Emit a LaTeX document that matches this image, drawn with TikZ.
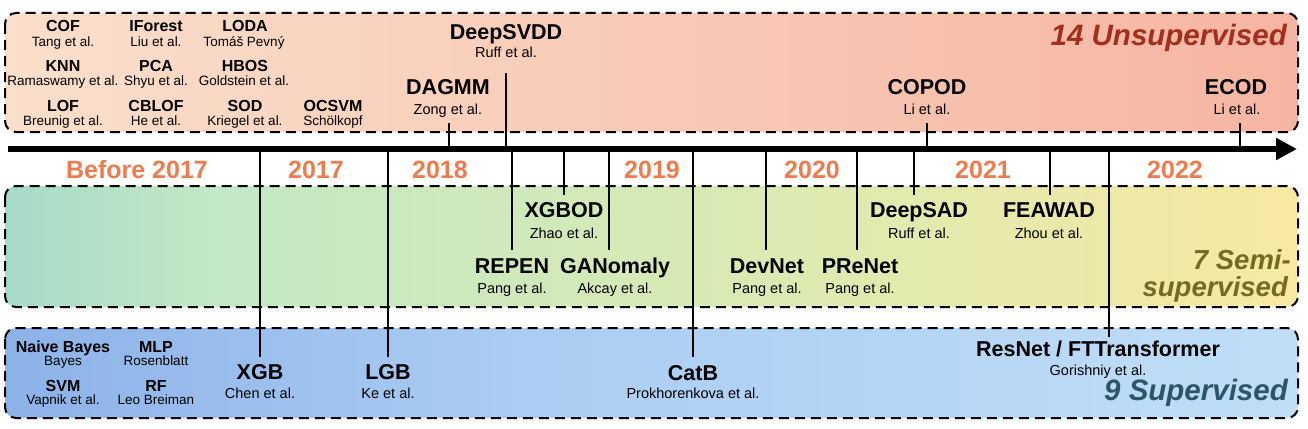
\documentclass[tikz,border=0pt]{standalone}
\usepackage{fontspec}
\setmainfont{Liberation Sans}
\usetikzlibrary{arrows.meta}
\definecolor{uA}{HTML}{FADFCB}
\definecolor{uB}{HTML}{F6B5A2}
\definecolor{sA}{HTML}{A6DBC8}
\definecolor{sB}{HTML}{C3E8C6}
\definecolor{sC}{HTML}{D8EAB4}
\definecolor{sD}{HTML}{F7E9A2}
\definecolor{pA}{HTML}{8DB2E8}
\definecolor{pB}{HTML}{ABCDF3}
\definecolor{pC}{HTML}{BFDEF7}
\definecolor{yearc}{HTML}{EE7B4C}
\definecolor{unsc}{HTML}{A22F1C}
\definecolor{semic}{HTML}{736B22}
\definecolor{supc}{HTML}{2C5568}
\pgfdeclarehorizontalshading{topsh}{100bp}{color(0bp)=(uA); color(25bp)=(uA); color(75bp)=(uB); color(100bp)=(uB)}
\pgfdeclarehorizontalshading{semish}{100bp}{color(0bp)=(sA); color(25bp)=(sA); color(33bp)=(sB); color(52bp)=(sC); color(75bp)=(sD); color(100bp)=(sD)}
\pgfdeclarehorizontalshading{supsh}{100bp}{color(0bp)=(pA); color(25bp)=(pA); color(45bp)=(pB); color(75bp)=(pC); color(100bp)=(pC)}
\newcommand\vtick[4]{\coordinate (#1-a) at (#2,#3); \coordinate (#1-b) at (#2,#4); \draw[tick] (#1-a) -- (#1-b);}
\begin{document}
\begin{tikzpicture}[x=1pt,y=-1pt,
 st/.style={font=\bfseries\fontsize{16}{16}\selectfont, inner sep=0pt, text height=11.5pt, text depth=0pt},
 ss/.style={font=\fontsize{13.5}{13.5}\selectfont, inner sep=0pt, text height=9.7pt, text depth=0pt},
 bt/.style={font=\bfseries\fontsize{21.5}{21.5}\selectfont, inner sep=0pt, text height=15.5pt, text depth=0pt},
 bs/.style={font=\fontsize{14.5}{14.5}\selectfont, inner sep=0pt, text height=10.4pt, text depth=0pt},
 yr/.style={font=\bfseries\fontsize{25}{25}\selectfont, text=yearc, inner sep=0pt, text height=18pt, text depth=0pt},
 grp/.style={font=\bfseries\itshape\fontsize{29.5}{29.5}\selectfont, inner sep=0pt, anchor=base east},
 tick/.style={line width=1.3pt, draw=black},
 boxline/.style={draw=black, line width=2pt, dash pattern=on 10pt off 6pt, rounded corners=11pt}]
\useasboundingbox (0,0) rectangle (1308,428);
% boxes
\shade[shading=topsh, rounded corners=11pt] (5,13) rectangle (1298,132);
\draw[boxline] (5,13) rectangle (1298,132);
\shade[shading=semish, rounded corners=11pt] (5,186) rectangle (1298,307);
\draw[boxline] (5,186) rectangle (1298,307);
\shade[shading=supsh, rounded corners=11pt] (5,328) rectangle (1298,418);
\draw[boxline] (5,328) rectangle (1298,418);
% ticks
\vtick{dsvdd}{506}{73}{149}
\vtick{dagmm}{449}{123}{149}
\vtick{copod}{927}{123}{149}
\vtick{ecod}{1240}{123}{149}
\vtick{xgb}{260}{149}{357}
\vtick{lgb}{388}{149}{357}
\vtick{catb}{693}{149}{357}
\vtick{resnet}{1109}{149}{337}
\vtick{repen}{512}{149}{250}
\vtick{xgbod}{564}{149}{195}
\vtick{ganom}{609}{149}{250}
\vtick{devnet}{766}{149}{250}
\vtick{prenet}{857}{149}{250}
\vtick{deepsad}{914}{149}{195}
\vtick{feawad}{1050}{149}{195}
% axis
\coordinate (axL) at (8,149);
\coordinate (axR) at (1297,149);
\draw[line width=6pt, -{Triangle[length=21pt,width=21pt]}] (axL) -- (axR);
% years
\node[yr] (y0) at (137,169) {Before 2017};
\node[yr] (y1) at (316,169) {2017};
\node[yr] (y2) at (440,169) {2018};
\node[yr] (y3) at (652,169) {2019};
\node[yr] (y4) at (812,169) {2020};
\node[yr] (y5) at (983,169) {2021};
\node[yr] (y6) at (1175,169) {2022};
% unsupervised classic
\node[st] (cof) at (63,26) {COF};        \node[ss] (cofs) at (63,42) {Tang et al.};
\node[st] (ifo) at (156,26) {IForest};   \node[ss] (ifos) at (156,42) {Liu et al.};
\node[st] (loda) at (245,26) {LODA};     \node[ss] (lodas) at (244,42) {Tomáš Pevný};
\node[st] (knn) at (63,66) {KNN};        \node[ss] (knns) at (63,81) {Ramaswamy et al.};
\node[st] (pca) at (156,66) {PCA};       \node[ss] (pcas) at (156,81) {Shyu et al.};
\node[st] (hbos) at (245,66) {HBOS};     \node[ss] (hboss) at (244,81) {Goldstein et al.};
\node[st] (lof) at (63,106) {LOF};       \node[ss] (lofs) at (63,121) {Breunig et al.};
\node[st] (cblof) at (156,106) {CBLOF};  \node[ss] (cblofs) at (156,121) {He et al.};
\node[st] (sod) at (245,106) {SOD};      \node[ss] (sods) at (245,121) {Kriegel et al.};
\node[st] (ocsvm) at (333,106) {OCSVM};  \node[ss] (ocsvms) at (333,121) {Schölkopf};
% unsupervised deep
\node[bt] (dsvddt) at (506,32) {DeepSVDD}; \node[bs] (dsvdds) at (506,52) {Ruff et al.};
\node[bt] (dagmmt) at (448,87) {DAGMM};    \node[bs] (dagmms) at (448,109) {Zong et al.};
\node[bt] (copodt) at (927,87) {COPOD};    \node[bs] (copods) at (927,109) {Li et al.};
\node[bt] (ecodt) at (1236,87) {ECOD};     \node[bs] (ecods) at (1237,109) {Li et al.};
\node[grp, text=unsc] (ulab) at (1287,46) {14 Unsupervised};
% semi-supervised
\node[bt] (xgbodt) at (564,210) {XGBOD};     \node[bs] (xgbods) at (564,233) {Zhao et al.};
\node[bt] (deepsadt) at (919,210) {DeepSAD}; \node[bs] (deepsads) at (919,233) {Ruff et al.};
\node[bt] (feawadt) at (1049,210) {FEAWAD};  \node[bs] (feawads) at (1049,233) {Zhou et al.};
\node[bt] (repent) at (512,266) {REPEN};     \node[bs] (repens) at (512,288) {Pang et al.};
\node[bt] (ganomt) at (615,266) {GANomaly};  \node[bs] (ganoms) at (615,288) {Akcay et al.};
\node[bt] (devnett) at (767,266) {DevNet};   \node[bs] (devnets) at (767,288) {Pang et al.};
\node[bt] (prenett) at (860,266) {PReNet};   \node[bs] (prenets) at (860,288) {Pang et al.};
\node[grp, text=semic, font=\bfseries\itshape\fontsize{27.5}{27.5}\selectfont] (slab1) at (1291,269) {7 Semi-};
\node[grp, text=semic, font=\bfseries\itshape\fontsize{27.5}{27.5}\selectfont] (slab2) at (1288,296) {supervised};
% supervised
\node[st] (nb) at (63,347) {Naive Bayes};  \node[ss] (nbs) at (63,361) {Bayes};
\node[st] (mlp) at (156,347) {MLP};        \node[ss] (mlps) at (156,361) {Rosenblatt};
\node[st] (svm) at (63,386) {SVM};         \node[ss] (svms) at (63,400) {Vapnik et al.};
\node[st] (rf) at (156,386) {RF};          \node[ss] (rfs) at (156,400) {Leo Breiman};
\node[bt] (xgbt) at (260,372) {XGB};       \node[bs] (xgbs) at (260,393) {Chen et al.};
\node[bt] (lgbt) at (388,372) {LGB};       \node[bs] (lgbs) at (388,393) {Ke et al.};
\node[bt] (catbt) at (693,373) {CatB};     \node[bs] (catbs) at (693,393) {Prokhorenkova et al.};
\node[bt] (resnett) at (1098,349) {ResNet / FTTransformer}; \node[bs] (resnets) at (1098,370) {Gorishniy et al.};
\node[grp, text=supc] (plab) at (1288,400) {9 Supervised};
\end{tikzpicture}
\end{document}
